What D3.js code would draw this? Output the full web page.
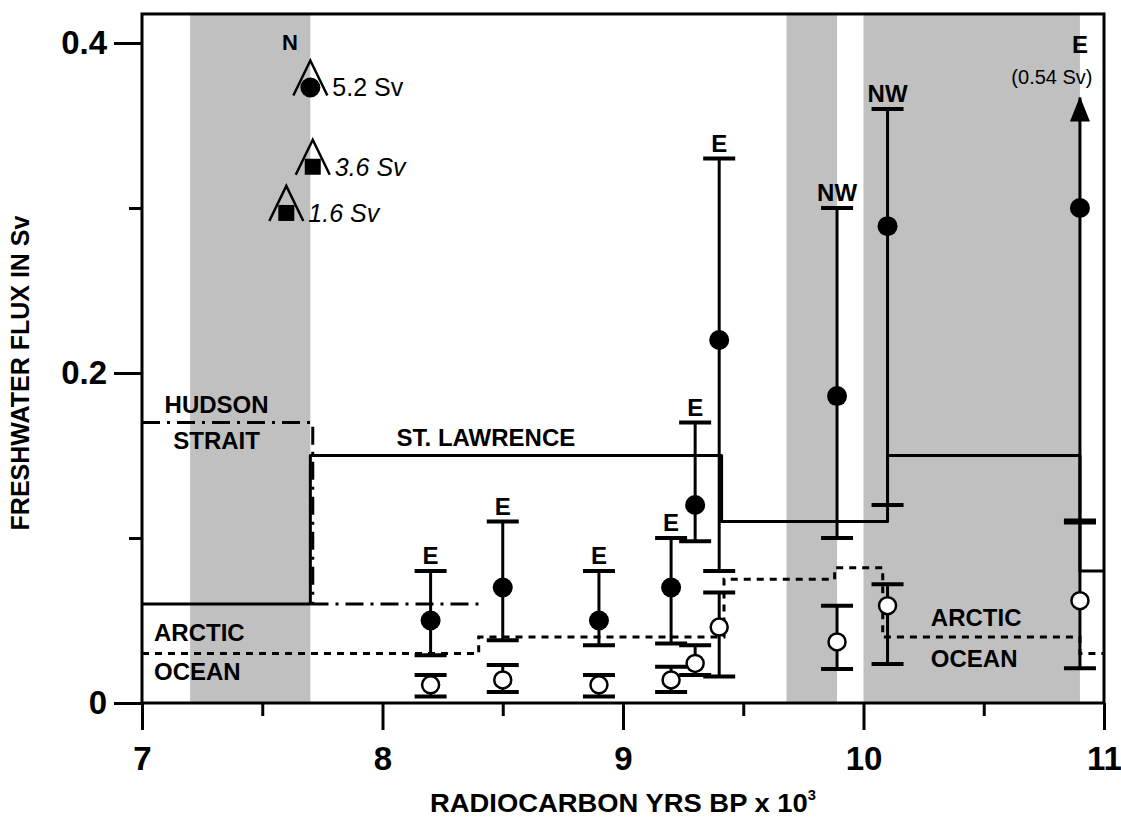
<!DOCTYPE html>
<html>
<head>
<meta charset="utf-8">
<script src="https://cdn.jsdelivr.net/npm/d3@7"></script>
<style>
  body { margin: 0; background: #fff; }
  text { font-family: "Liberation Sans", Arial, sans-serif; fill: #000; }
</style>
</head>
<body>
<script>
// data (x in 10^3 radiocarbon yrs BP, y in Sv)
var bandStart = [7.2, 9.68, 10.0];
var bandEnd = [7.7, 9.89, 10.9];

var stLawrenceX = [7, 7.7, 9.41, 10.1, 10.9, 11];
var stLawrenceY = [0.06, 0.15, 0.11, 0.15, 0.08, 0.08];
var hudsonX = [7, 7.71, 8.4];
var hudsonY = [0.17, 0.06, 0.06];
var arcticX = [7, 8.4, 9.42, 9.88, 10.08, 10.9, 11];
var arcticY = [0.03, 0.04, 0.075, 0.082, 0.04, 0.03, 0.03];

var closedX = [8.2, 8.5, 8.9, 9.2, 9.3, 9.4, 9.89, 10.1, 10.9];
var closedY = [0.05, 0.07, 0.05, 0.07, 0.12, 0.22, 0.186, 0.289, 0.30];
var closedHi = [0.08, 0.11, 0.08, 0.10, 0.17, 0.33, 0.30, 0.36, 0.367];
var closedLo = [0.029, 0.038, 0.035, 0.036, 0.098, 0.08, 0.10, 0.12, 0.11];
var closedLabel = ["E", "E", "E", "E", "E", "E", "NW", "NW", "E"];

var openX = [8.2, 8.5, 8.9, 9.2, 9.3, 9.4, 9.89, 10.1, 10.9];
var openY = [0.011, 0.014, 0.011, 0.014, 0.024, 0.046, 0.037, 0.059, 0.062];
var openHi = [0.017, 0.023, 0.017, 0.022, 0.035, 0.067, 0.059, 0.072, 0.11];
var openLo = [0.004, 0.0067, 0.004, 0.0067, 0.017, 0.016, 0.0206, 0.0236, 0.021];

// north outlet estimates (triangle symbols)
var northX = [7.7, 7.71, 7.6];
var northY = [0.373, 0.325, 0.297];
var northShape = ["circle", "square", "square"];
var northText = ["5.2 Sv", "3.6 Sv", "1.6 Sv"];

var xMajor = [7, 8, 9, 10, 11];
var xMinor = [7.5, 8.5, 9.5, 10.5];
var yMajor = [0, 0.2, 0.4];
var yMinor = [0.1, 0.3];

function main() {
  var width = 1121, height = 817;
  var svg = d3.select("body").append("svg")
    .attr("width", width).attr("height", height);

  var x = d3.scaleLinear().domain([7, 11]).range([142, 1104]);
  var y = d3.scaleLinear().domain([0, 0.4]).range([703, 43]);
  var yTop = 0.4176;

  // gray bands
  svg.selectAll("rect.band").data(bandStart).enter().append("rect")
    .attr("x", function(d) { return x(d); })
    .attr("width", function(d, i) { return x(bandEnd[i]) - x(d); })
    .attr("y", y(yTop)).attr("height", y(0) - y(yTop))
    .attr("fill", "#c0c0c0");

  var step = d3.line().curve(d3.curveStepAfter)
    .x(function(d) { return x(d[0]); }).y(function(d) { return y(d[1]); });

  svg.append("path").datum(d3.zip(arcticX, arcticY))
    .attr("d", step).attr("fill", "none").attr("stroke", "#000")
    .attr("stroke-width", 3).attr("stroke-dasharray", "7,6");
  svg.append("path").datum(d3.zip(hudsonX, hudsonY))
    .attr("d", step).attr("fill", "none").attr("stroke", "#000")
    .attr("stroke-width", 3).attr("stroke-dasharray", "18,7,3,7");
  svg.append("path").datum(d3.zip(stLawrenceX, stLawrenceY))
    .attr("d", step).attr("fill", "none").attr("stroke", "#000")
    .attr("stroke-width", 3).attr("stroke-linejoin", "round");

  // error bars
  function bars(xs, lo, hi, skipHiCap) {
    xs.forEach(function(d, i) {
      svg.append("line")
        .attr("x1", x(d)).attr("x2", x(d))
        .attr("y1", y(lo[i])).attr("y2", y(hi[i]))
        .attr("stroke", "#000").attr("stroke-width", 3);
      [lo[i], hi[i]].forEach(function(v, k) {
        if (k === 1 && skipHiCap && skipHiCap(i)) return;
        svg.append("line")
          .attr("x1", x(d) - 16).attr("x2", x(d) + 16)
          .attr("y1", y(v)).attr("y2", y(v))
          .attr("stroke", "#000").attr("stroke-width", 4);
      });
    });
  }
  bars(closedX, closedLo, closedHi, function(i) { return i === closedX.length - 1; });
  bars(openX, openLo, openHi);

  // thick cap at 10.9 and arrow head
  var last = closedX.length - 1;
  svg.append("line")
    .attr("x1", x(closedX[last]) - 16).attr("x2", x(closedX[last]) + 16)
    .attr("y1", y(closedLo[last])).attr("y2", y(closedLo[last]))
    .attr("stroke", "#000").attr("stroke-width", 6);
  var ax = x(closedX[last]), ay = y(closedHi[last]);
  svg.append("path")
    .attr("d", "M" + ax + "," + (ay - 1) + "L" + (ax - 10) + "," + (ay + 24) +
      "L" + (ax + 10) + "," + (ay + 24) + "Z")
    .attr("fill", "#000");

  svg.selectAll("circle.closed").data(closedX).enter().append("circle")
    .attr("cx", function(d) { return x(d); })
    .attr("cy", function(d, i) { return y(closedY[i]); })
    .attr("r", 10).attr("fill", "#000");
  svg.selectAll("circle.open").data(openX).enter().append("circle")
    .attr("cx", function(d) { return x(d); })
    .attr("cy", function(d, i) { return y(openY[i]); })
    .attr("r", 8.5).attr("fill", "#fff").attr("stroke", "#000").attr("stroke-width", 2.5);

  // outlet labels above the bars
  closedX.forEach(function(d, i) {
    if (i === last) return;
    svg.append("text")
      .attr("x", x(d)).attr("y", y(closedHi[i]) - 7)
      .attr("text-anchor", "middle").attr("font-weight", "bold")
      .attr("font-size", 24).text(closedLabel[i]);
  });
  svg.append("text").attr("x", ax).attr("y", 53)
    .attr("text-anchor", "middle").attr("font-weight", "bold")
    .attr("font-size", 24).text(closedLabel[last]);
  svg.append("text").attr("x", ax - 28).attr("y", 84)
    .attr("text-anchor", "middle").attr("font-size", 20).text("(0.54 Sv)");

  // north symbols
  northX.forEach(function(d, i) {
    var cx = x(d), cy = y(northY[i]);
    svg.append("path")
      .attr("d", "M" + (cx - 17) + "," + (cy + 8) + "L" + cx + "," + (cy - 27) +
        "L" + (cx + 17) + "," + (cy + 8))
      .attr("fill", "none").attr("stroke", "#000").attr("stroke-width", 2.5);
    if (northShape[i] === "circle") {
      svg.append("circle").attr("cx", cx).attr("cy", cy).attr("r", 10).attr("fill", "#000");
    } else {
      svg.append("rect").attr("x", cx - 8).attr("y", cy - 8)
        .attr("width", 16).attr("height", 16).attr("fill", "#000");
    }
    svg.append("text").attr("x", cx + 22).attr("y", cy).attr("dy", "0.35em")
      .attr("font-size", 25).attr("font-style", i === 0 ? "normal" : "italic")
      .text(northText[i]);
  });
  svg.append("text").attr("x", x(7.615)).attr("y", 50)
    .attr("text-anchor", "middle").attr("font-weight", "bold")
    .attr("font-size", 22).text("N");

  // region labels
  function label(t, xv, yv, anchor) {
    svg.append("text").attr("x", x(xv)).attr("y", y(yv)).attr("dy", "0.35em")
      .attr("text-anchor", anchor).attr("font-weight", "bold")
      .attr("font-size", 24).text(t);
  }
  label("HUDSON", 7.31, 0.1806, "middle");
  label("STRAIT", 7.31, 0.159, "middle");
  label("ST. LAWRENCE", 8.43, 0.1606, "middle");
  label("ARCTIC", 7.05, 0.0424, "start");
  label("OCEAN", 7.05, 0.0188, "start");
  label("ARCTIC", 10.28, 0.052, "start");
  label("OCEAN", 10.28, 0.0267, "start");

  // frame
  svg.append("rect").attr("x", x(7)).attr("y", y(yTop))
    .attr("width", x(11) - x(7)).attr("height", y(0) - y(yTop))
    .attr("fill", "none").attr("stroke", "#000").attr("stroke-width", 3);

  // axes
  var xAxis = svg.append("g").attr("transform", "translate(0," + y(0) + ")")
    .call(d3.axisBottom(x).tickValues(xMajor).tickSize(27).tickPadding(17)
      .tickFormat(d3.format("d")));
  svg.append("g").attr("transform", "translate(0," + y(0) + ")")
    .call(d3.axisBottom(x).tickValues(xMinor).tickSize(13).tickFormat(""));
  var yAxis = svg.append("g").attr("transform", "translate(" + x(7) + ",0)")
    .call(d3.axisLeft(y).tickValues(yMajor).tickSize(28).tickPadding(7)
      .tickFormat(function(d) { return d === 0 ? "0" : d3.format(".1f")(d); }));
  svg.append("g").attr("transform", "translate(" + x(7) + ",0)")
    .call(d3.axisLeft(y).tickValues(yMinor).tickSize(13).tickFormat(""));
  svg.selectAll(".domain").remove();
  svg.selectAll(".tick line").attr("stroke", "#000").attr("stroke-width", 3);
  svg.selectAll(".tick text")
    .attr("font-family", "Liberation Sans, Arial, sans-serif")
    .attr("font-weight", "bold").attr("font-size", 33).attr("fill", "#000");

  // axis titles
  var xt = svg.append("text").attr("x", 623).attr("y", 812)
    .attr("text-anchor", "middle").attr("font-weight", "bold")
    .attr("font-size", 26).attr("textLength", 386).attr("lengthAdjust", "spacingAndGlyphs");
  xt.append("tspan").text("RADIOCARBON YRS BP x 10");
  xt.append("tspan").attr("font-size", 14).attr("dy", -12).text("3");
  svg.append("text")
    .attr("transform", "translate(29,373) rotate(-90)")
    .attr("text-anchor", "middle").attr("font-weight", "bold")
    .attr("font-size", 25).text("FRESHWATER FLUX IN Sv");
}
main();
</script>
</body>
</html>
